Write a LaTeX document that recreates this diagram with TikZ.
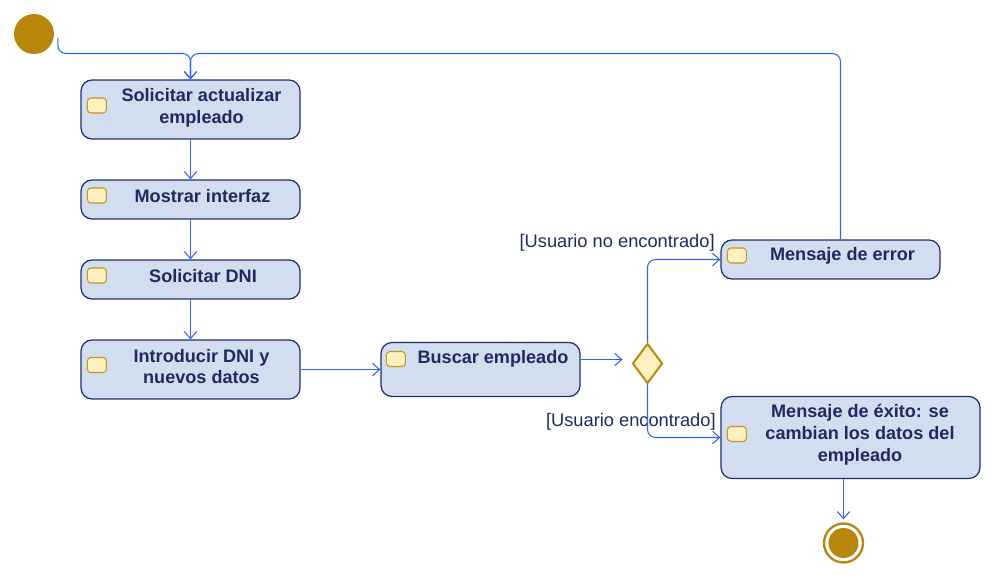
\documentclass[tikz,border=0pt]{standalone}
\usepackage{fontspec}
\setmainfont{Liberation Sans}
\usetikzlibrary{arrows.meta,shapes.geometric,calc}

\definecolor{cajafondo}{HTML}{D3DDF0}
\definecolor{cajaborde}{HTML}{1E3068}
\definecolor{textoazul}{HTML}{1C2C60}
\definecolor{flechaazul}{HTML}{2F62F2}
\definecolor{oro}{HTML}{B8860B}
\definecolor{iconofondo}{HTML}{FFF0C0}
\definecolor{iconoborde}{HTML}{C6961E}

\begin{document}
\begin{tikzpicture}[x=0.02cm,y=-0.02cm,
	caja/.style={draw=cajaborde, fill=cajafondo, line width=0.7pt, rounded corners=0.22cm, minimum width=4.38cm, inner sep=0pt},
	texto/.style={font=\fontsize{10.3}{12.4}\selectfont\bfseries, text=textoazul, align=center, inner sep=0pt},
	icono/.style={draw=iconoborde, fill=iconofondo, line width=0.6pt, rounded corners=0.07cm, minimum width=0.38cm, minimum height=0.3cm, inner sep=0pt},
	guarda/.style={font=\fontsize{10.4}{12}\selectfont, text=textoazul, inner sep=0pt, anchor=east},
	flecha/.style={draw=flechaazul, line width=0.6pt, -{Straight Barb[length=4pt,width=7pt]}, rounded corners=0.16cm}]

	%Keep the margins of the reference
	\useasboundingbox (0,0) rectangle (991,577);

	%Start and end
	\node[circle, fill=oro, minimum size=0.8cm, inner sep=0pt] (inicio) at (34,34) {};
	\node[circle, draw=oro, line width=1.3pt, fill=white, minimum size=0.78cm, inner sep=0pt] (fin) at (843.5,543) {};
	\node[circle, fill=oro, minimum size=0.6cm, inner sep=0pt] (finint) at (843.5,543) {};

	%Actions on the left column
	\node[caja, minimum height=1.18cm] (solicitar) at (190.5,109.5) {};
	\node[caja, minimum height=0.78cm] (mostrar) at (190.5,199.5) {};
	\node[caja, minimum height=0.78cm] (dni) at (190.5,279.5) {};
	\node[caja, minimum height=1.18cm] (introducir) at (190.5,369.5) {};

	%Search, decision and the two outcomes
	\node[caja, minimum width=3.98cm, minimum height=1.08cm] (buscar) at (480.5,369.5) {};
	\node[diamond, draw=oro, fill=iconofondo, line width=1.1pt, minimum width=0.6cm, minimum height=0.8cm, inner sep=0pt] (decision) at (647.5,363.5) {};
	\node[caja, minimum height=0.78cm] (error) at (830.5,259.5) {};
	\node[caja, minimum width=5.18cm, minimum height=1.64cm] (exito) at (850.5,437.5) {};

	%Texts of the actions
	\node[texto] (tsolicitar) at ($(solicitar)+(11,-1.5)$) {Solicitar actualizar\\ empleado};
	\node[texto] (tmostrar) at ($(mostrar)+(12,-3.5)$) {Mostrar interfaz};
	\node[texto] (tdni) at ($(dni)+(12.5,-3.5)$) {Solicitar DNI};
	\node[texto] (tintroducir) at ($(introducir)+(11,-3)$) {Introducir DNI y\\ nuevos datos};
	\node[texto] (tbuscar) at ($(buscar)+(12.5,-11)$) {Buscar empleado};
	\node[texto] (terror) at ($(error)+(12,-3.5)$) {Mensaje de error};
	\node[texto] (texito) at ($(exito)+(9.5,-2.5)$) {Mensaje de éxito: se\\ cambian los datos del\\ empleado};

	%Small icons
	\node[icono] (isolicitar) at ($(solicitar.west)+(16.5,-4)$) {};
	\node[icono] (imostrar) at ($(mostrar.west)+(16.5,-4)$) {};
	\node[icono] (idni) at ($(dni.west)+(16.5,-4)$) {};
	\node[icono] (iintroducir) at ($(introducir.west)+(16.5,-4.5)$) {};
	\node[icono] (ibuscar) at ($(buscar.west)+(15.5,-10.5)$) {};
	\node[icono] (ierror) at ($(error.west)+(16.5,-4)$) {};
	\node[icono] (iexito) at ($(exito.west)+(16.5,-3.5)$) {};

	%Guards
	\node[guarda] (gno) at (715,243) {[Usuario no encontrado]};
	\node[guarda] (gsi) at (716,422) {[Usuario encontrado]};

	%Connectors
	\coordinate (union) at (190.5,53.5);
	\coordinate (bsal) at ($(buscar.east)+(0,-10)$);
	\coordinate (bfin) at ($(decision.west)+(-9,-4)$);
	\coordinate (ffin) at ($(fin.north)+(0,-3)$);
	\draw[flecha] ($(inicio.east)+(3.5,4)$) |- (union) -- (solicitar.north);
	\draw[flecha] ($(error.north)+(10,0)$) |- (union) -- (solicitar.north);
	\draw[flecha] (solicitar) -- (mostrar);
	\draw[flecha] (mostrar) -- (dni);
	\draw[flecha] (dni) -- (introducir);
	\draw[flecha] (introducir) -- (buscar);
	\draw[flecha] (bsal) -- (bfin);
	\draw[flecha] (decision.north) |- (error.west);
	\draw[flecha] (decision.south) |- (exito.west);
	\draw[flecha] (fin.north |- exito.south) -- (ffin);

\end{tikzpicture}
\end{document}
